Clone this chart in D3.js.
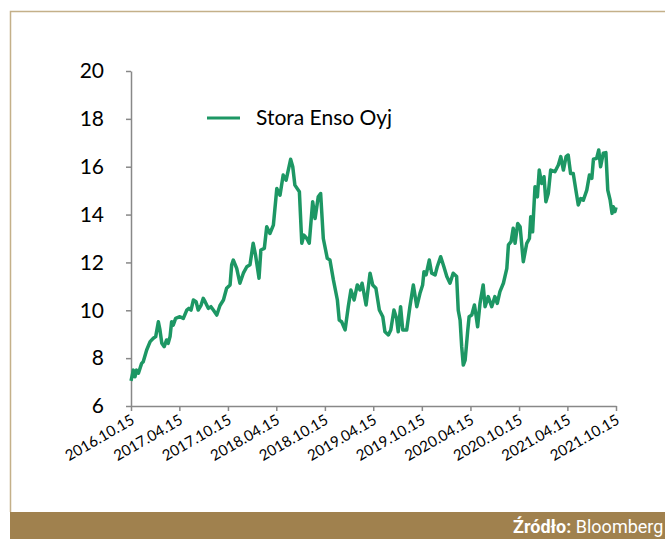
<!DOCTYPE html>
<html>
<head>
<meta charset="utf-8">
<script src="https://cdn.jsdelivr.net/npm/d3@7"></script>
<style>
  html, body { margin: 0; padding: 0; background: #fff; }
  svg { display: block; }
</style>
</head>
<body>
<svg id="chart"></svg>
<script>
const WIDTH = 665;
const HEIGHT = 539;

const SERIES_NAME = "Stora Enso Oyj";
const SOURCE_LABEL = "Źródło:";
const SOURCE_NAME = "Bloomberg";

const Y_TICKS = [6, 8, 10, 12, 14, 16, 18, 20];
const X_TICKS = ["2016-10-15", "2017-04-15", "2017-10-15", "2018-04-15", "2018-10-15",
  "2019-04-15", "2019-10-15", "2020-04-15", "2020-10-15", "2021-04-15", "2021-10-15"];

// prices
const dates = [
  "2016-10-15","2016-10-24","2016-10-30","2016-11-05","2016-11-12","2016-11-24","2016-11-30","2016-12-13","2016-12-26","2017-01-07",
  "2017-01-16","2017-01-26","2017-02-01","2017-02-08","2017-02-17","2017-02-26","2017-03-04","2017-03-11","2017-03-17","2017-03-23",
  "2017-04-01","2017-04-17","2017-04-30","2017-05-13","2017-05-21","2017-05-29","2017-06-07","2017-06-17","2017-06-25","2017-07-06",
  "2017-07-14","2017-07-21","2017-08-02","2017-08-12","2017-08-21","2017-09-03","2017-09-15","2017-09-28","2017-10-10","2017-10-23",
  "2017-10-29","2017-11-04","2017-11-17","2017-11-29","2017-12-12","2017-12-25","2018-01-06","2018-01-18","2018-01-27","2018-02-09",
  "2018-02-16","2018-03-01","2018-03-10","2018-03-22","2018-04-04","2018-04-17","2018-04-29","2018-05-11","2018-05-22","2018-06-08",
  "2018-06-16","2018-06-24","2018-07-11","2018-07-20","2018-07-28","2018-08-08","2018-08-17","2018-08-30","2018-09-08","2018-09-20",
  "2018-09-29","2018-10-09","2018-10-24","2018-11-03","2018-11-16","2018-12-01","2018-12-08","2018-12-17","2018-12-30","2019-01-11",
  "2019-01-21","2019-02-02","2019-02-14","2019-02-24","2019-03-04","2019-03-11","2019-03-19","2019-04-03","2019-04-13","2019-04-25",
  "2019-05-08","2019-05-21","2019-05-29","2019-06-11","2019-06-20","2019-07-02","2019-07-12","2019-07-18","2019-07-27","2019-08-04",
  "2019-08-19","2019-08-31","2019-09-13","2019-09-26","2019-10-08","2019-10-18","2019-10-23","2019-10-31","2019-11-12","2019-11-21",
  "2019-12-04","2019-12-12","2019-12-25","2020-01-06","2020-01-17","2020-01-29","2020-02-10","2020-02-23","2020-02-29","2020-03-07",
  "2020-03-13","2020-03-19","2020-03-26","2020-04-05","2020-04-10","2020-04-20","2020-04-30","2020-05-05","2020-05-12","2020-05-21",
  "2020-06-02","2020-06-09","2020-06-21","2020-07-04","2020-07-16","2020-07-25","2020-08-04","2020-08-17","2020-08-30","2020-09-05",
  "2020-09-15","2020-09-23","2020-09-30","2020-10-10","2020-10-19","2020-10-31","2020-11-13","2020-11-23","2020-11-28","2020-12-05",
  "2020-12-14","2020-12-23","2020-12-30","2021-01-08","2021-01-17","2021-01-24","2021-02-02","2021-02-11","2021-02-27","2021-03-12",
  "2021-03-21","2021-03-31","2021-04-10","2021-04-18","2021-04-27","2021-05-07","2021-05-17","2021-05-26","2021-06-04","2021-06-14",
  "2021-06-27","2021-07-07","2021-07-16","2021-07-22","2021-08-03","2021-08-11","2021-08-18","2021-08-28","2021-09-07","2021-09-14",
  "2021-09-23","2021-09-30","2021-10-05","2021-10-11","2021-10-15"
];
const prices = [
  7.05,7.5,7.22,7.5,7.37,7.78,7.85,8.34,8.69,8.83,
  8.9,9.52,9.18,8.62,8.48,8.76,8.62,8.9,9.52,9.38,
  9.66,9.73,9.66,10.01,10.08,10.01,10.43,10.36,10.01,10.22,
  10.5,10.36,10.08,10.15,10.01,9.8,10.2,10.43,10.92,11.06,
  11.9,12.1,11.75,11.13,11.55,11.82,11.9,12.8,12.3,11.34,
  12.52,12.59,13.49,13.21,13.56,15.09,14.81,15.65,15.44,16.31,
  16.0,15.23,14.95,12.8,13.14,13.0,12.8,14.54,13.84,14.74,
  14.88,13.0,12.17,12.1,11.27,10.43,9.59,9.52,9.18,10.15,
  10.85,10.43,11.06,10.85,11.13,10.71,10.22,11.55,11.06,10.92,
  10.01,9.73,9.1,8.97,9.18,10.01,9.66,9.1,10.15,9.18,
  9.18,10.15,11.06,10.15,10.71,11.06,11.61,11.48,12.1,11.55,
  11.48,11.82,12.24,11.82,11.41,11.13,11.55,11.41,10.0,9.59,
  8.48,7.71,7.92,9.18,9.73,9.8,10.22,9.87,9.31,10.29,
  11.06,10.15,10.57,10.15,10.57,10.29,10.78,11.13,11.75,12.73,
  12.87,13.43,12.8,13.63,13.49,12.03,12.8,13.0,13.91,13.28,
  15.16,14.74,15.86,15.3,15.58,14.54,14.88,15.86,15.79,16.07,
  16.42,15.86,16.42,16.49,15.72,15.72,15.02,14.4,14.67,14.6,
  15.02,15.65,15.51,16.31,16.35,16.7,16.0,16.56,16.59,15.02,
  14.6,14.05,14.33,14.12,14.3
];

const parse = d3.timeParse("%Y-%m-%d");
const fmtTick = d3.timeFormat("%Y.%m.%d");
const data = dates.map((d, i) => ({ date: parse(d), value: prices[i] }));

const MARGIN = { top: 71, bottom: 133, left: 131, right: 49 };

const svg = d3.select("#chart")
  .attr("width", WIDTH)
  .attr("height", HEIGHT);

// frame
svg.append("path")
  .attr("d", `M10.5,512 V11.5 H${WIDTH}`)
  .attr("fill", "none")
  .attr("stroke", "#c4b089")
  .attr("stroke-width", 1.5);

svg.append("rect")
  .attr("x", 10)
  .attr("y", 512)
  .attr("width", WIDTH - 10)
  .attr("height", HEIGHT - 512)
  .attr("fill", "#a0814e");

const source = svg.append("text")
  .attr("x", 513)
  .attr("y", 533)
  .attr("fill", "#fff")
  .attr("font-family", "Roboto, sans-serif")
  .attr("font-size", 18);
source.append("tspan").attr("font-weight", "bold").text(SOURCE_LABEL);
source.append("tspan").text(" " + SOURCE_NAME);

const x = d3.scaleTime()
  .domain([parse(X_TICKS[0]), parse(X_TICKS[X_TICKS.length - 1])])
  .range([MARGIN.left, WIDTH - MARGIN.right]);

const y = d3.scaleLinear()
  .domain([6, 20])
  .range([HEIGHT - MARGIN.bottom, MARGIN.top]);

const ejeX = d3.axisBottom(x)
  .tickValues(X_TICKS.map(parse))
  .tickFormat(fmtTick)
  .tickSize(5)
  .tickSizeOuter(0);

const ejeY = d3.axisLeft(y)
  .tickValues(Y_TICKS)
  .tickSize(5)
  .tickSizeOuter(0);

const gx = svg.append("g")
  .attr("transform", `translate(0, ${y(6)})`)
  .call(ejeX);

gx.selectAll("text")
  .attr("font-family", "Lato, sans-serif")
  .attr("font-size", 15)
  .attr("fill", "#000")
  .attr("text-anchor", "end")
  .attr("y", 0)
  .attr("dy", 0)
  .attr("transform", "translate(4, 17) rotate(-30)");

const gy = svg.append("g")
  .attr("transform", `translate(${MARGIN.left}, 0)`)
  .call(ejeY);

gy.selectAll("text")
  .attr("font-family", "Lato, sans-serif")
  .attr("font-size", 21)
  .attr("fill", "#000")
  .attr("x", -27);

svg.selectAll(".domain, .tick line")
  .attr("stroke", "#888")
  .attr("stroke-width", 1.5);

const line = d3.line()
  .x(d => x(d.date))
  .y(d => y(d.value));

svg.append("path")
  .datum(data)
  .attr("fill", "none")
  .attr("stroke", "#1d9764")
  .attr("stroke-width", 3.5)
  .attr("stroke-linejoin", "round")
  .attr("d", line);

// legend
svg.append("line")
  .attr("x1", 207).attr("x2", 240)
  .attr("y1", 118).attr("y2", 118)
  .attr("stroke", "#1d9764")
  .attr("stroke-width", 3);

svg.append("text")
  .attr("x", 256)
  .attr("y", 118)
  .attr("dy", "0.35em")
  .attr("font-family", "Lato, sans-serif")
  .attr("font-size", 21)
  .attr("fill", "#000")
  .text(SERIES_NAME);
</script>
</body>
</html>
